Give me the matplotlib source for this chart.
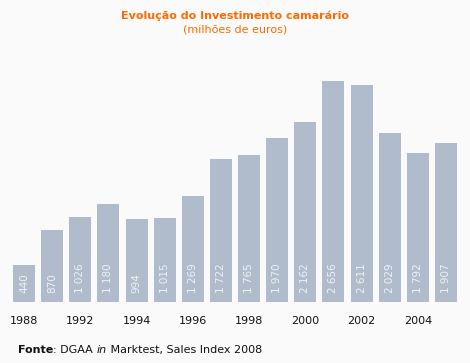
import matplotlib
matplotlib.use("Agg")
import matplotlib.pyplot as plt

values = [440, 870, 1026, 1180, 994, 1015, 1269, 1722, 1765, 1970, 2162, 2656, 2611, 2029, 1792, 1907]
tick_labels = ["1988", "", "1992", "", "1994", "", "1996", "", "1998", "", "2000", "", "2002", "", "2004", ""]
title = "Evolução do Investimento camarário"
subtitle = "(milhões de euros)"

W, H = 470, 363
bg = "#fafafa"
bar_color = "#b0bccc"
orange = "#ff6a00"

fig = plt.figure(figsize=(W / 100, H / 100), dpi=100, facecolor=bg)
# axes in pixel terms: bottom at y=302, top (value 2656) at y=81
ax = fig.add_axes([0, (H - 302) / H, 1, 221 / H])
ax.set_facecolor(bg)
pitch = 28.13
x = list(range(len(values)))
ax.bar(x, values, width=22 / pitch, color=bar_color, linewidth=0)
ax.set_xlim(-24 / pitch, (W - 24) / pitch)
ax.set_ylim(0, 2656)
for s in ax.spines.values():
    s.set_visible(False)
ax.set_yticks([])
ax.set_xticks(x)
ax.set_xticklabels(tick_labels, fontsize=8, color="#111111", family="DejaVu Sans")
ax.tick_params(axis="x", length=0, pad=10)

for xi, v in zip(x, values):
    lab = f"{v:,}".replace(",", " ")
    ax.annotate(lab, (xi, 0), xytext=(0, 9), textcoords="offset pixels",
                rotation=90, ha="center", va="bottom", fontsize=7.5,
                color="#eef1f5", family="DejaVu Sans")

fig.text(235 / W, 1 - 16 / H, title, ha="center", va="center", fontsize=8,
         fontweight="bold", color=orange)
fig.text(235 / W, 1 - 29 / H, subtitle, ha="center", va="center", fontsize=8,
         color=orange)

# source line composed of segments
fig.canvas.draw()
r = fig.canvas.get_renderer()
segments = [("Fonte", "bold", "normal"), (": DGAA ", "normal", "normal"),
            ("in", "normal", "italic"), (" Marktest, Sales Index 2008", "normal", "normal")]
xpix = 18
for txt, wgt, sty in segments:
    t = fig.text(xpix / W, 1 - 350 / H, txt, ha="left", va="center", fontsize=8,
                 fontweight=wgt, style=sty, color="#111111")
    bb = t.get_window_extent(renderer=r)
    xpix += bb.width

fig.savefig("out.png", dpi=100, facecolor=bg)
